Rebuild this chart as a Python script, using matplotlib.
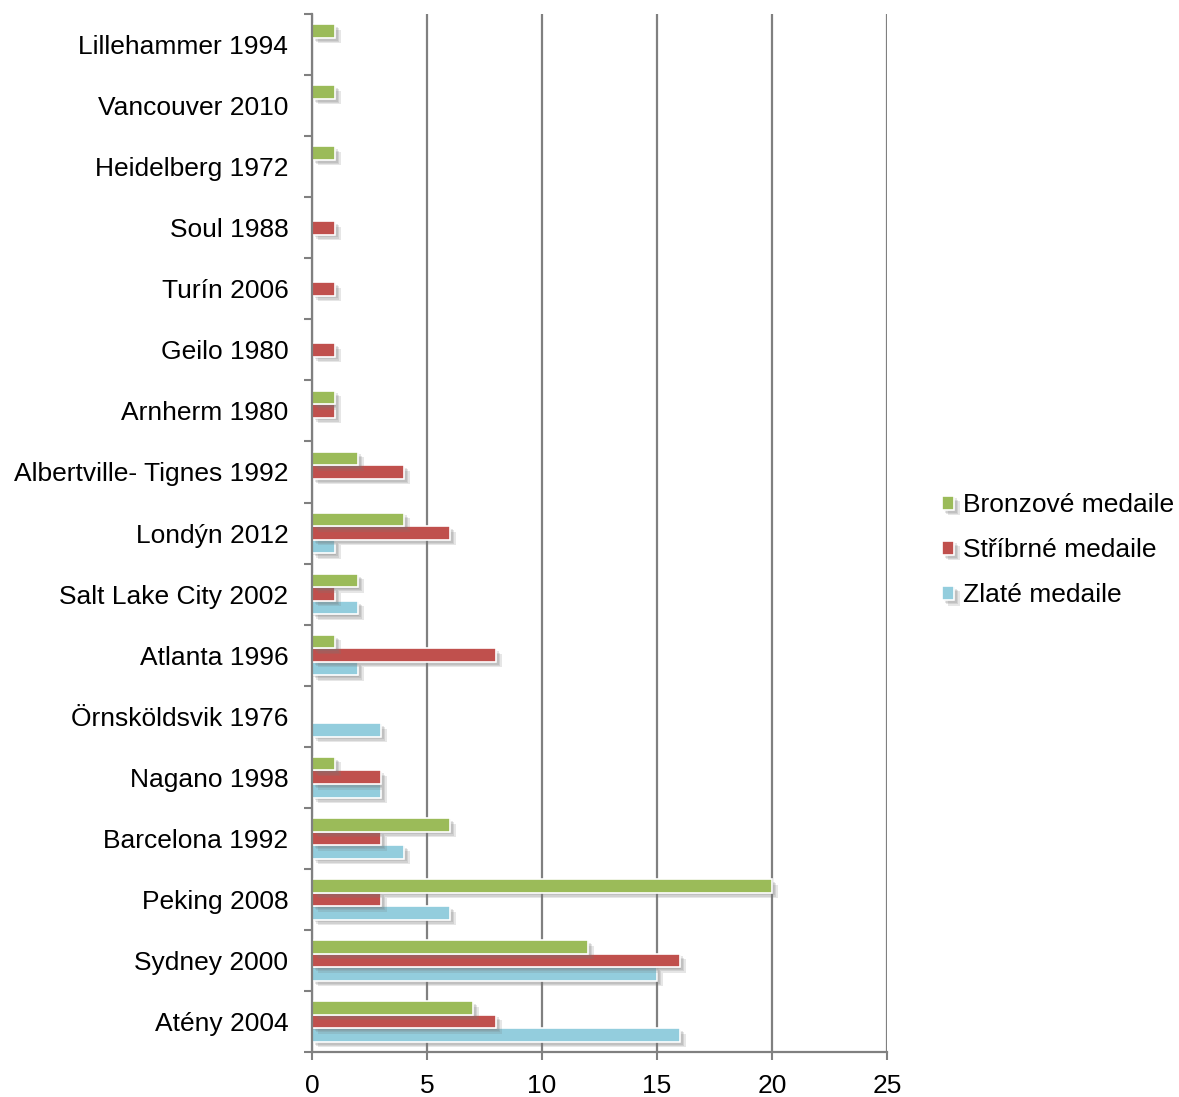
import numpy as np
import matplotlib
matplotlib.use('Agg')
import matplotlib.pyplot as plt
import matplotlib.patheffects as pe

plt.rcParams['font.family'] = ['Liberation Sans', 'DejaVu Sans']

# Místa konání (odspodu nahoru)
mista = ['Atény 2004', 'Sydney 2000', 'Peking 2008', 'Barcelona 1992', 'Nagano 1998',
         'Örnsköldsvik 1976', 'Atlanta 1996', 'Salt Lake City 2002', 'Londýn 2012',
         'Albertville- Tignes 1992', 'Arnherm 1980', 'Geilo 1980', 'Turín 2006',
         'Soul 1988', 'Heidelberg 1972', 'Vancouver 2010', 'Lillehammer 1994']
zlate = [16, 15, 6, 4, 3, 3, 2, 2, 1, 0, 0, 0, 0, 0, 0, 0, 0]
stribrne = [8, 16, 3, 3, 3, 0, 8, 1, 6, 4, 1, 1, 1, 1, 0, 0, 0]
bronzove = [7, 12, 20, 6, 1, 0, 1, 2, 4, 2, 1, 0, 0, 0, 1, 1, 1]
x_ticks = [0, 5, 10, 15, 20, 25]

fig = plt.figure(figsize=(11.79, 10.97), dpi=100)
ax = fig.add_axes([0.2646, 0.041, 0.4877, 0.9462])

y = np.arange(len(mista))
h = 0.222
# měkký stín pod pruhy
shadow = [pe.SimplePatchShadow(offset=(d, -d), shadow_rgbFace='#777777', alpha=0.18)
          for d in (1, 2, 3, 4)] + [pe.Normal()]
series = [(zlate, '#93CDDD', 'Zlaté medaile', -h),
          (stribrne, '#C0504D', 'Stříbrné medaile', 0),
          (bronzove, '#9BBB59', 'Bronzové medaile', h)]
handles = []
for vals, col, lab, off in series:
    bars = ax.barh(y + off, vals, height=h, color=col, edgecolor='white', linewidth=1.2,
                   label=lab, zorder=3)
    for b in bars:
        if b.get_width() > 0:
            b.set_path_effects(shadow)
    handles.append(bars)

ax.set_xlim(0, 25)
ax.set_ylim(-0.5, len(mista) - 0.5)
ax.set_xticks(x_ticks)
ax.set_yticks(y)
ax.set_yticklabels(mista)
ax.set_yticks(np.arange(len(mista) + 1) - 0.5, minor=True)
ax.tick_params(axis='y', which='major', length=0, pad=17, labelsize=19)
ax.tick_params(axis='y', which='minor', length=6, width=1.5, color='#808080', direction='out')
ax.tick_params(axis='x', length=6, width=1.5, color='#808080', labelsize=19, pad=10)
ax.grid(axis='x', color='#808080', linewidth=1.6, zorder=0)
for s in ['top', 'right']:
    ax.spines[s].set_visible(False)
for s in ['left', 'bottom']:
    ax.spines[s].set_color('#808080')
    ax.spines[s].set_linewidth(1.6)
    ax.spines[s].set_zorder(5)

fig.legend(handles[::-1], [s[2] for s in series][::-1], loc='center left',
           bbox_to_anchor=(0.779, 0.4985), frameon=False, fontsize=19,
           handlelength=0.45, handleheight=0.45, handletextpad=0.35, labelspacing=0.8)

fig.savefig('out.png', dpi=100)
